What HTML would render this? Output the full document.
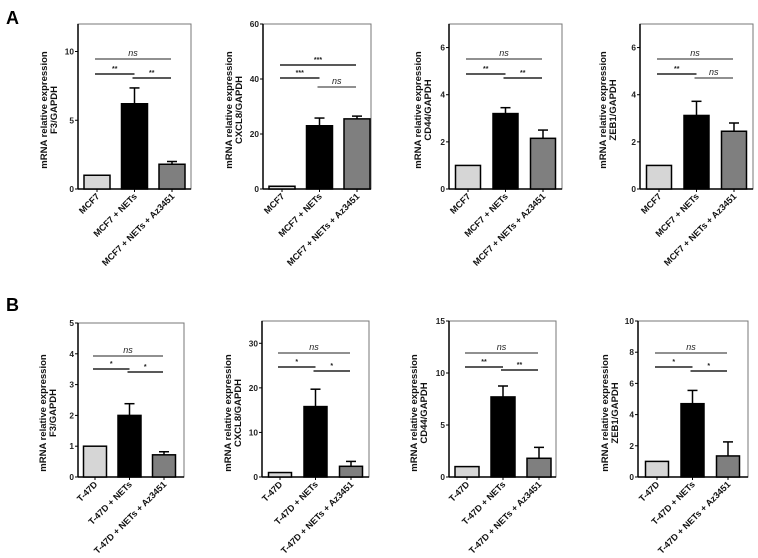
<!DOCTYPE html>
<html><head><meta charset="utf-8">
<style>
html,body{margin:0;padding:0;background:#fff;}
svg{display:block;font-family:"Liberation Sans",Arial,sans-serif;}
</style></head>
<body>
<svg id="fig" width="758" height="558" viewBox="0 0 758 558">
<text x="6" y="24" font-size="18" font-weight="bold">A</text>
<text x="6" y="311" font-size="18" font-weight="bold">B</text>
</svg>
<script>
// ---- data ----
const categoriesA = ["MCF7", "MCF7 + NETs", "MCF7 + NETs + Az3451"];
const categoriesB = ["T-47D", "T-47D + NETs", "T-47D + NETs + Az3451"];
const genes = ["F3", "CXCL8", "CD44", "ZEB1"];
const valuesA_F3 = [1.0, 6.2, 1.8];
const errorsA_F3 = [0, 7.35, 2.0];
const valuesA_CXCL8 = [1.0, 23.0, 25.5];
const errorsA_CXCL8 = [0, 25.8, 26.5];
const valuesA_CD44 = [1.0, 3.2, 2.15];
const errorsA_CD44 = [0, 3.45, 2.5];
const valuesA_ZEB1 = [1.0, 3.12, 2.45];
const errorsA_ZEB1 = [0, 3.72, 2.8];
const valuesB_F3 = [1.0, 2.0, 0.72];
const errorsB_F3 = [0, 2.38, 0.82];
const valuesB_CXCL8 = [1.0, 15.8, 2.4];
const errorsB_CXCL8 = [0, 19.7, 3.5];
const valuesB_CD44 = [1.0, 7.7, 1.8];
const errorsB_CD44 = [0, 8.75, 2.85];
const valuesB_ZEB1 = [1.0, 4.7, 1.35];
const errorsB_ZEB1 = [0, 5.55, 2.25];
const ticksA_F3 = [0, 5, 10];
const ticksA_CXCL8 = [0, 20, 40, 60];
const ticksA_CD44 = [0, 2, 4, 6];
const ticksA_ZEB1 = [0, 2, 4, 6];
const ticksB_F3 = [0, 1, 2, 3, 4, 5];
const ticksB_CXCL8 = [0, 10, 20, 30];
const ticksB_CD44 = [0, 5, 10, 15];
const ticksB_ZEB1 = [0, 2, 4, 6, 8, 10];
const sigA_F3 = ["ns", "**", "**"];
const sigA_CXCL8 = ["***", "***", "ns"];
const sigA_CD44 = ["ns", "**", "**"];
const sigA_ZEB1 = ["ns", "**", "ns"];
const sigB_F3 = ["ns", "*", "*"];
const sigB_CXCL8 = ["ns", "*", "*"];
const sigB_CD44 = ["ns", "**", "**"];
const sigB_ZEB1 = ["ns", "*", "*"];

// ---- layout ----
const panels = [
 {id:"a-f3", cats:categoriesA, gene:"F3", vals:valuesA_F3, errs:errorsA_F3, ticks:ticksA_F3, sig:sigA_F3, max:12, L:78,R:191,T:24,B:189, cx0:97,dx:37.5,bw:26, tx:47, ty:110, sy:[59,74,78]},
 {id:"a-cxcl8", cats:categoriesA, gene:"CXCL8", vals:valuesA_CXCL8, errs:errorsA_CXCL8, ticks:ticksA_CXCL8, sig:sigA_CXCL8, max:60, L:263,R:371,T:24,B:189, cx0:282,dx:37.5,bw:26, tx:232, ty:110, sy:[65,78,87], thickNs:true},
 {id:"a-cd44", cats:categoriesA, gene:"CD44", vals:valuesA_CD44, errs:errorsA_CD44, ticks:ticksA_CD44, sig:sigA_CD44, max:7, L:449,R:562,T:24,B:189, cx0:468,dx:37.5,bw:25, tx:421, ty:110, sy:[59,74,78]},
 {id:"a-zeb1", cats:categoriesA, gene:"ZEB1", vals:valuesA_ZEB1, errs:errorsA_ZEB1, ticks:ticksA_ZEB1, sig:sigA_ZEB1, max:7, L:640,R:753,T:24,B:189, cx0:659,dx:37.5,bw:25, tx:606, ty:110, sy:[59,74,78]},
 {id:"b-f3", cats:categoriesB, gene:"F3", vals:valuesB_F3, errs:errorsB_F3, ticks:ticksB_F3, sig:sigB_F3, max:5, L:78,R:184,T:323,B:477, cx0:95,dx:34.5,bw:23, tx:46, ty:413, sy:[356,369,372]},
 {id:"b-cxcl8", cats:categoriesB, gene:"CXCL8", vals:valuesB_CXCL8, errs:errorsB_CXCL8, ticks:ticksB_CXCL8, sig:sigB_CXCL8, max:35, L:262,R:369,T:321,B:477, cx0:280,dx:35.5,bw:23, tx:231, ty:413, sy:[353,367,371]},
 {id:"b-cd44", cats:categoriesB, gene:"CD44", vals:valuesB_CD44, errs:errorsB_CD44, ticks:ticksB_CD44, sig:sigB_CD44, max:15, L:449,R:556,T:321,B:477, cx0:467,dx:36,bw:24, tx:417, ty:413, sy:[353,367,370]},
 {id:"b-zeb1", cats:categoriesB, gene:"ZEB1", vals:valuesB_ZEB1, errs:errorsB_ZEB1, ticks:ticksB_ZEB1, sig:sigB_ZEB1, max:10, L:638,R:748,T:321,B:477, cx0:657,dx:35.5,bw:23, tx:608, ty:413, sy:[353,367,371]}
];
const fills = ["#d6d6d6", "#000000", "#7f7f7f"];
const NS = "http://www.w3.org/2000/svg";
const svg = document.getElementById("fig");
function mk(tag, attrs, parent){
  const e = document.createElementNS(NS, tag);
  for (const k in attrs) e.setAttribute(k, attrs[k]);
  (parent||svg).appendChild(e);
  return e;
}
panels.forEach(p => {
  const g = mk("g", {});
  
  
  const y = v => p.B - (v / p.max) * (p.B - p.T);
  const x = i => p.cx0 + i * p.dx;
  const fr = mk("rect", {x:p.L, y:p.T, width:p.R-p.L, height:p.B-p.T, fill:"none", stroke:"#777", "stroke-width":1}, g);
  
  
  const ya = mk("line", {x1:p.L, y1:p.T, x2:p.L, y2:p.B, stroke:"#000", "stroke-width":1.5}, g);
  
  
  const xa = mk("line", {x1:p.L, y1:p.B, x2:p.R, y2:p.B, stroke:"#000", "stroke-width":1.5}, g);
  
  
  p.ticks.forEach(t => {
    mk("line", {x1:p.L-3, y1:y(t), x2:p.L, y2:y(t), stroke:"#000", "stroke-width":1}, g);
    const tl = mk("text", {x:p.L-4, y:y(t)+3, "font-size":8.3, "font-weight":"bold", "text-anchor":"end", fill:"#222"}, g);
    tl.textContent = t;
    
    
  });
  const tt = mk("text", {transform:`translate(${p.tx},${p.ty}) rotate(-90)`, "font-size":9.5, "font-weight":"bold", "text-anchor":"middle", fill:"#111"}, g);
  
  
  const s1 = mk("tspan", {x:0, y:0}, tt); s1.textContent = "mRNA relative expression";
  const s2 = mk("tspan", {x:0, y:10}, tt); s2.textContent = p.gene + "/GAPDH";
  p.vals.forEach((v, i) => {
    const cx = x(i);
    if (p.errs[i] > v) {
      const eb = mk("line", {x1:cx, y1:y(v), x2:cx, y2:y(p.errs[i]), stroke:"#000", "stroke-width":1.5}, g);
      
      
      const cap = mk("line", {x1:cx-5, y1:y(p.errs[i]), x2:cx+5, y2:y(p.errs[i]), stroke:"#000", "stroke-width":1.5}, g);
      
      
    }
    const b = mk("rect", {x:cx-p.bw/2, y:y(v), width:p.bw, height:p.B-y(v), fill:fills[i], stroke:"#000", "stroke-width":1.5}, g);
    
    
    mk("line", {x1:cx, y1:p.B, x2:cx, y2:p.B+3, stroke:"#000", "stroke-width":1}, g);
    const xl = mk("text", {transform:`translate(${cx+3},${p.B+8}) rotate(-45)`, "font-size":9, "font-weight":"bold", "text-anchor":"end", fill:"#111"}, g);
    xl.textContent = p.cats[i];
    
    
  });
  const pairs = [[0,2],[0,1],[1,2]];
  pairs.forEach((pr, k) => {
    const x1 = x(pr[0]) - 2, x2 = x(pr[1]) + (k===1 ? 0 : -1);
    const lab = p.sig[k];
    const thick = lab !== "ns" ? 1.6 : (p.thickNs && k===0 ? 1.6 : 0.9);
    const ln = mk("line", {x1:x1, y1:p.sy[k], x2:x2, y2:p.sy[k], stroke:"#222", "stroke-width":thick}, g);
    
    
    const st = mk("text", {x:(x1+x2)/2, y:p.sy[k]-3, "font-size":lab==="ns"?9:7, "font-style":lab==="ns"?"italic":"normal", "font-weight":lab==="ns"?"normal":"bold", "text-anchor":"middle", fill:"#222"}, g);
    st.textContent = lab;
    
    
  });
});
</script>
</body></html>
